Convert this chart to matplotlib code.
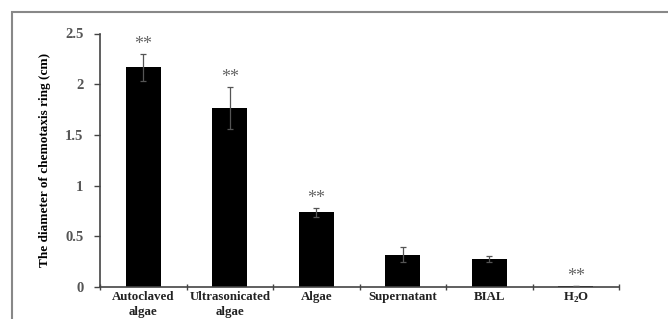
import matplotlib
matplotlib.use("Agg")
import matplotlib.pyplot as plt
from matplotlib.patches import Rectangle

categories = ["Autoclaved\nalgae", "Ultrasonicated\nalgae", "Algae", "Supernatant", "BIAL", r"H$_{\mathbf{2}}$O"]
values = [2.165, 1.765, 0.735, 0.32, 0.28, 0.006]
errors = [0.13, 0.205, 0.04, 0.077, 0.03, 0.0]
significant = [True, True, True, False, False, True]
yticks = [0, 0.5, 1, 1.5, 2, 2.5]
ytick_labels = ["0", "0.5", "1", "1.5", "2", "2.5"]

plt.rcParams['font.family'] = ['Liberation Serif', 'DejaVu Serif']
plt.rcParams['mathtext.fontset'] = 'custom'
plt.rcParams['mathtext.rm'] = 'Liberation Serif:bold'
plt.rcParams['mathtext.bf'] = 'Liberation Serif:bold'

fig = plt.figure(figsize=(6.68, 3.19), dpi=100)
ax = fig.add_axes([100/668, 1-287/319, 519/668, (287-33.5)/319])

x = list(range(len(categories)))
ax.bar(x, values, width=0.4, color='black', zorder=2)
ax.errorbar(x, values, yerr=errors, fmt='none', ecolor='#555555', elinewidth=0.9,
            capsize=2.5, capthick=0.9, zorder=3)

for xi, v, e, s in zip(x, values, errors, significant):
    if s:
        ax.annotate("**", (xi, v + e), xytext=(0, 1), textcoords='offset points',
                    ha='center', va='bottom', fontsize=13, color='#666666')

ax.set_xlim(-0.5, len(categories) - 0.5)
ax.set_ylim(0, 2.5)
ax.set_yticks(yticks)
ax.set_yticklabels(ytick_labels, fontsize=10.5, fontweight='bold', color='#555555')
ax.set_xticks(x)
ax.set_xticklabels(categories, fontsize=9.3, fontweight='bold', color='#222222', linespacing=1.3)
ax.tick_params(axis='x', length=0, pad=3)
ax.set_xticks([i - 0.5 for i in range(len(categories) + 1)], minor=True)
ax.tick_params(axis='x', which='minor', length=4, direction='inout', color='#444444', width=1)
ax.tick_params(axis='y', length=4, color='#444444', width=1, pad=8)

for side in ['top', 'right']:
    ax.spines[side].set_visible(False)
for side in ['left', 'bottom']:
    ax.spines[side].set_color('#444444')
    ax.spines[side].set_linewidth(1.2)

ax.set_ylabel("The diameter of chemotaxis ring (cm)", fontsize=9.5, fontweight='bold', labelpad=10)

fig.patches.append(Rectangle((12/668, -0.1), 1.0, (319-12)/319 + 0.1, transform=fig.transFigure,
                             fill=False, edgecolor='#888888', linewidth=1.5))

fig.savefig("out.png", dpi=100)
